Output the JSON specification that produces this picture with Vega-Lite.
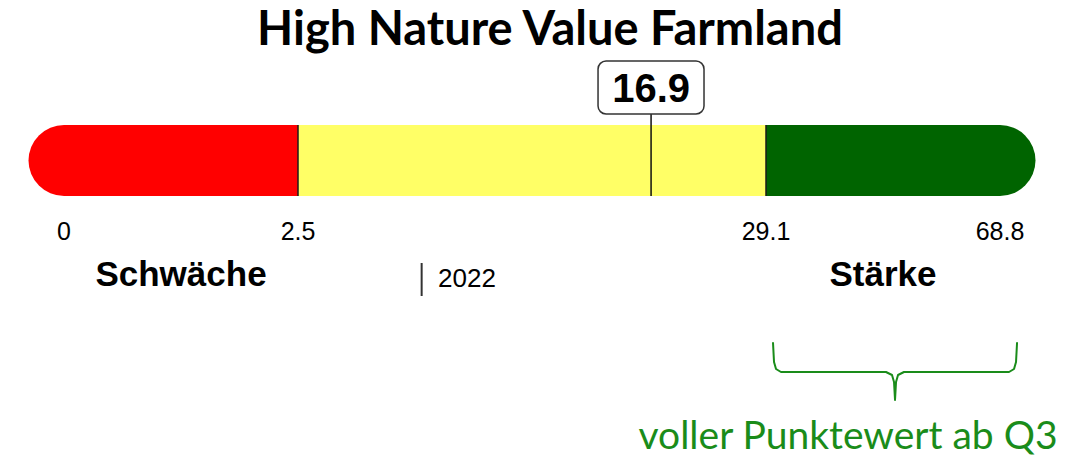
{
  "$schema": "https://vega.github.io/schema/vega-lite/v6.json",
  "width": 1081,
  "height": 458,
  "padding": 0,
  "autosize": {"type": "none"},
  "background": "white",
  "config": {"view": {"stroke": null}},
  "datasets": {
    "segments": [
      {"segment": "Schwäche", "from": 0, "to": 2.5},
      {"segment": "Mitte", "from": 2.5, "to": 29.1},
      {"segment": "Stärke", "from": 29.1, "to": 68.8}
    ],
    "quartiles": [
      {"q": "Min", "value": 0, "label": "0"},
      {"q": "Q1", "value": 2.5, "label": "2.5"},
      {"q": "Q3", "value": 29.1, "label": "29.1"},
      {"q": "Max", "value": 68.8, "label": "68.8"}
    ],
    "categories": [
      {"label": "Schwäche", "pos": 1.25},
      {"label": "Stärke", "pos": 48.95}
    ],
    "current": [{"year": "2022", "value": 16.9}],
    "brace": [
      {"i": 1, "x": 30.29, "y": 74.89},
      {"i": 2, "x": 30.46, "y": 79.04},
      {"i": 3, "x": 30.8, "y": 80.57},
      {"i": 4, "x": 31.64, "y": 81.22},
      {"i": 5, "x": 49.46, "y": 81.22},
      {"i": 6, "x": 50.48, "y": 81.88},
      {"i": 7, "x": 50.82, "y": 83.41},
      {"i": 8, "x": 50.99, "y": 87.34},
      {"i": 9, "x": 51.16, "y": 83.41},
      {"i": 10, "x": 51.5, "y": 81.88},
      {"i": 11, "x": 52.51, "y": 81.22},
      {"i": 12, "x": 70.33, "y": 81.22},
      {"i": 13, "x": 71.18, "y": 80.57},
      {"i": 14, "x": 71.52, "y": 79.04},
      {"i": 15, "x": 71.69, "y": 74.89}
    ]
  },
  "layer": [
    {
      "data": {"values": [{"t": "High Nature Value Farmland"}]},
      "mark": {"type": "text", "font": "Lato", "fontWeight": "bold", "fontSize": 47, "align": "center", "baseline": "alphabetic", "color": "#000000"},
      "encoding": {
        "x": {"datum": 6.17, "type": "quantitative", "scale": {"type": "linear", "domain": [0, 2.5, 4.26, 29.1, 68.8], "range": [64, 298, 532, 766, 1000], "nice": false, "zero": false}, "axis": null},
        "y": {"datum": 9.83, "type": "quantitative", "scale": {"domain": [0, 100], "range": [0, 458], "nice": false, "zero": false}, "axis": null},
        "text": {"field": "t"}
      }
    },
    {
      "data": {"name": "segments"},
      "transform": [{"filter": "datum.segment != 'Mitte'"}],
      "mark": {"type": "rule", "strokeWidth": 71, "strokeCap": "round"},
      "encoding": {
        "x": {"field": "from", "type": "quantitative", "scale": {"type": "linear", "domain": [0, 2.5, 4.26, 29.1, 68.8], "range": [64, 298, 532, 766, 1000], "nice": false, "zero": false}, "axis": null},
        "x2": {"field": "to"},
        "y": {"datum": 35.04, "type": "quantitative", "scale": {"domain": [0, 100], "range": [0, 458], "nice": false, "zero": false}, "axis": null},
        "color": {"field": "segment", "type": "nominal", "scale": {"domain": ["Schwäche", "Mitte", "Stärke"], "range": ["#FF0000", "#FFFF66", "#006400"]}, "legend": null}
      }
    },
    {
      "data": {"name": "segments"},
      "transform": [{"filter": "datum.segment == 'Mitte'"}],
      "mark": {"type": "rule", "strokeWidth": 71, "strokeCap": "butt"},
      "encoding": {
        "x": {"field": "from", "type": "quantitative"},
        "x2": {"field": "to"},
        "y": {"datum": 35.04, "type": "quantitative"},
        "color": {"field": "segment", "type": "nominal", "legend": null}
      }
    },
    {
      "data": {"name": "quartiles"},
      "transform": [{"filter": "datum.q == 'Q1' || datum.q == 'Q3'"}],
      "mark": {"type": "rule", "strokeWidth": 1.5, "color": "#1a1a1a"},
      "encoding": {
        "x": {"field": "value", "type": "quantitative"},
        "y": {"datum": 27.29, "type": "quantitative"},
        "y2": {"datum": 42.79}
      }
    },
    {
      "data": {"name": "current"},
      "mark": {"type": "rule", "strokeWidth": 1.5, "color": "#111111"},
      "encoding": {
        "x": {"field": "value", "type": "quantitative"},
        "y": {"datum": 24.89, "type": "quantitative"},
        "y2": {"datum": 42.79}
      }
    },
    {
      "data": {"name": "current"},
      "mark": {"type": "rect", "fill": "white", "stroke": "#333333", "strokeWidth": 1.5, "cornerRadius": 8},
      "encoding": {
        "x": {"datum": 11.27, "type": "quantitative"},
        "x2": {"datum": 22.52},
        "y": {"datum": 13.32, "type": "quantitative"},
        "y2": {"datum": 24.89}
      }
    },
    {
      "data": {"name": "current"},
      "mark": {"type": "text", "font": "Liberation Sans", "fontWeight": "bold", "fontSize": 40, "align": "center", "baseline": "alphabetic", "color": "#000000"},
      "encoding": {
        "x": {"field": "value", "type": "quantitative"},
        "y": {"datum": 22.27, "type": "quantitative"},
        "text": {"field": "value", "type": "quantitative", "format": ".1f"}
      }
    },
    {
      "data": {"name": "quartiles"},
      "mark": {"type": "text", "font": "Liberation Sans", "fontSize": 25, "align": "center", "baseline": "alphabetic", "color": "#000000"},
      "encoding": {
        "x": {"field": "value", "type": "quantitative"},
        "y": {"datum": 52.4, "type": "quantitative"},
        "text": {"field": "label"}
      }
    },
    {
      "data": {"name": "categories"},
      "mark": {"type": "text", "font": "Liberation Sans", "fontWeight": "bold", "fontSize": 35, "align": "center", "baseline": "alphabetic", "color": "#000000"},
      "encoding": {
        "x": {"field": "pos", "type": "quantitative"},
        "y": {"datum": 62.45, "type": "quantitative"},
        "text": {"field": "label"}
      }
    },
    {
      "data": {"name": "current"},
      "mark": {"type": "rule", "strokeWidth": 2, "color": "#333333"},
      "encoding": {
        "x": {"datum": 3.43, "type": "quantitative"},
        "y": {"datum": 57.42, "type": "quantitative"},
        "y2": {"datum": 64.63}
      }
    },
    {
      "data": {"name": "current"},
      "mark": {"type": "text", "font": "Liberation Sans", "fontSize": 26, "align": "left", "baseline": "alphabetic", "color": "#000000"},
      "encoding": {
        "x": {"datum": 3.553, "type": "quantitative"},
        "y": {"datum": 62.66, "type": "quantitative"},
        "text": {"field": "year"}
      }
    },
    {
      "data": {"name": "brace"},
      "mark": {"type": "line", "color": "#1A8C1A", "strokeWidth": 2, "strokeCap": "round", "strokeJoin": "round", "interpolate": "linear"},
      "encoding": {
        "x": {"field": "x", "type": "quantitative"},
        "y": {"field": "y", "type": "quantitative"},
        "order": {"field": "i", "type": "quantitative"}
      }
    },
    {
      "data": {"values": [{"t": "voller Punktewert ab Q3"}]},
      "mark": {"type": "text", "font": "Lato", "fontSize": 39, "align": "center", "baseline": "alphabetic", "color": "#1A8C1A"},
      "encoding": {
        "x": {"datum": 43.01, "type": "quantitative"},
        "y": {"datum": 98.0, "type": "quantitative"},
        "text": {"field": "t"}
      }
    }
  ]
}
